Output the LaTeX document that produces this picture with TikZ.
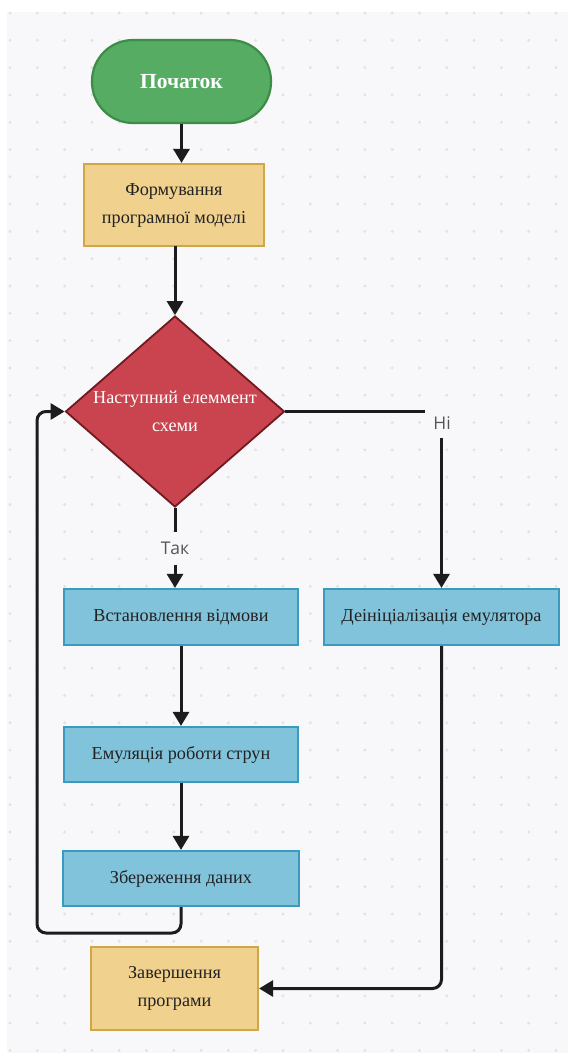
\documentclass[tikz,border=0pt]{standalone}
\usepackage{fontspec}
\setmainfont{Liberation Serif}
\newfontfamily\lblfont{Open Sans}
\usetikzlibrary{shapes.geometric,arrows.meta}
\definecolor{canvas}{HTML}{F8F8FB}
\definecolor{dotc}{HTML}{E2E2E6}
\definecolor{gfill}{HTML}{55AC62}
\definecolor{gdraw}{HTML}{3D8C48}
\definecolor{yfill}{HTML}{F0D18D}
\definecolor{ydraw}{HTML}{CFA648}
\definecolor{rfill}{HTML}{C9444E}
\definecolor{rdraw}{HTML}{6E1A20}
\definecolor{bfill}{HTML}{82C3DC}
\definecolor{bdraw}{HTML}{3B9AC0}
\definecolor{linec}{HTML}{1C1C1C}
\definecolor{txtc}{HTML}{222222}
\definecolor{lblc}{HTML}{555555}
\begin{document}
\begin{tikzpicture}[x=1pt,y=-1pt,
  termbox/.style={draw=gdraw,fill=gfill,line width=2.2pt,rounded corners=41pt,minimum width=179pt,minimum height=83pt,inner sep=0pt,text=white,font=\fontsize{21.5}{24}\selectfont\bfseries},
  ybox/.style={draw=ydraw,fill=yfill,line width=2.2pt,inner sep=0pt,text=txtc,align=center,font=\fontsize{18.2}{28}\selectfont},
  bbox/.style={draw=bdraw,fill=bfill,line width=2.2pt,inner sep=0pt,minimum height=56pt,text=txtc,align=center,font=\fontsize{18.2}{28}\selectfont},
  decbox/.style={diamond,aspect=1.147,draw=rdraw,fill=rfill,line width=1.8pt,inner sep=0pt,minimum width=219pt,minimum height=191pt,text=white,align=center,font=\fontsize{18.2}{28}\selectfont},
  conn/.style={draw=linec,line width=3pt},
  arr/.style={conn,-{Triangle[width=16pt,length=14pt]}},
  lbl/.style={fill=canvas,text=lblc,inner sep=0pt,font=\lblfont\fontsize{17.5}{20}\selectfont}
]
\useasboundingbox (0,0) rectangle (568,1053);
\fill[white] (0,0) rectangle (568,1053);
\fill[canvas] (7,12) rectangle (568,1053);
\foreach \i in {0,...,20}{\foreach \j in {0,...,38}{\fill[dotc] (10+27.3*\i,13+27.3*\j) circle (1.6pt);}}

\node[termbox] (start) at (181.5,81.5) {Початок};
\node[ybox,minimum width=180pt,minimum height=82pt] (form) at (174,205) {Формування\\програмної моделі};
\node[decbox] (dec) at (175,411.5) {\makebox[0pt]{Наступний елеммент}\\\makebox[0pt]{схеми}};
\node[bbox,minimum width=234pt] (setf) at (181,617) {Встановлення відмови};
\node[bbox,minimum width=235pt] (deinit) at (441.5,617) {Деініціалізація емулятора};
\node[bbox,minimum width=234pt,minimum height=55pt] (emul) at (181,754.5) {Емуляція роботи струн};
\node[bbox,minimum width=236pt,minimum height=55pt] (save) at (181,878.5) {Збереження даних};
\node[ybox,minimum width=167pt,minimum height=83pt] (fin) at (174.5,988.5) {Завершення\\програми};
\coordinate (lp) at (37,933);

\draw[arr] (start.south) -- (start.south |- form.north);
\draw[arr] (form.south) -- (form.south -| dec.north) -- (dec.north);
\draw[arr] (dec.south) -- (dec.south |- setf.north);
\draw[arr] (dec.east) -| (deinit.north);
\draw[arr] (setf.south) -- (emul.north);
\draw[arr] (emul.south) -- (save.north);
\draw[arr,rounded corners=9pt] (save.south) |- (lp) |- (dec.west);
\draw[arr,rounded corners=9pt] (deinit.south) |- (fin.east);

\node[lbl,minimum width=32pt,minimum height=33pt] (tak) at (175,548.5) {Так};
\node[lbl,minimum width=34pt,minimum height=30pt] (ni) at (442,423) {Ні};
\end{tikzpicture}
\end{document}
